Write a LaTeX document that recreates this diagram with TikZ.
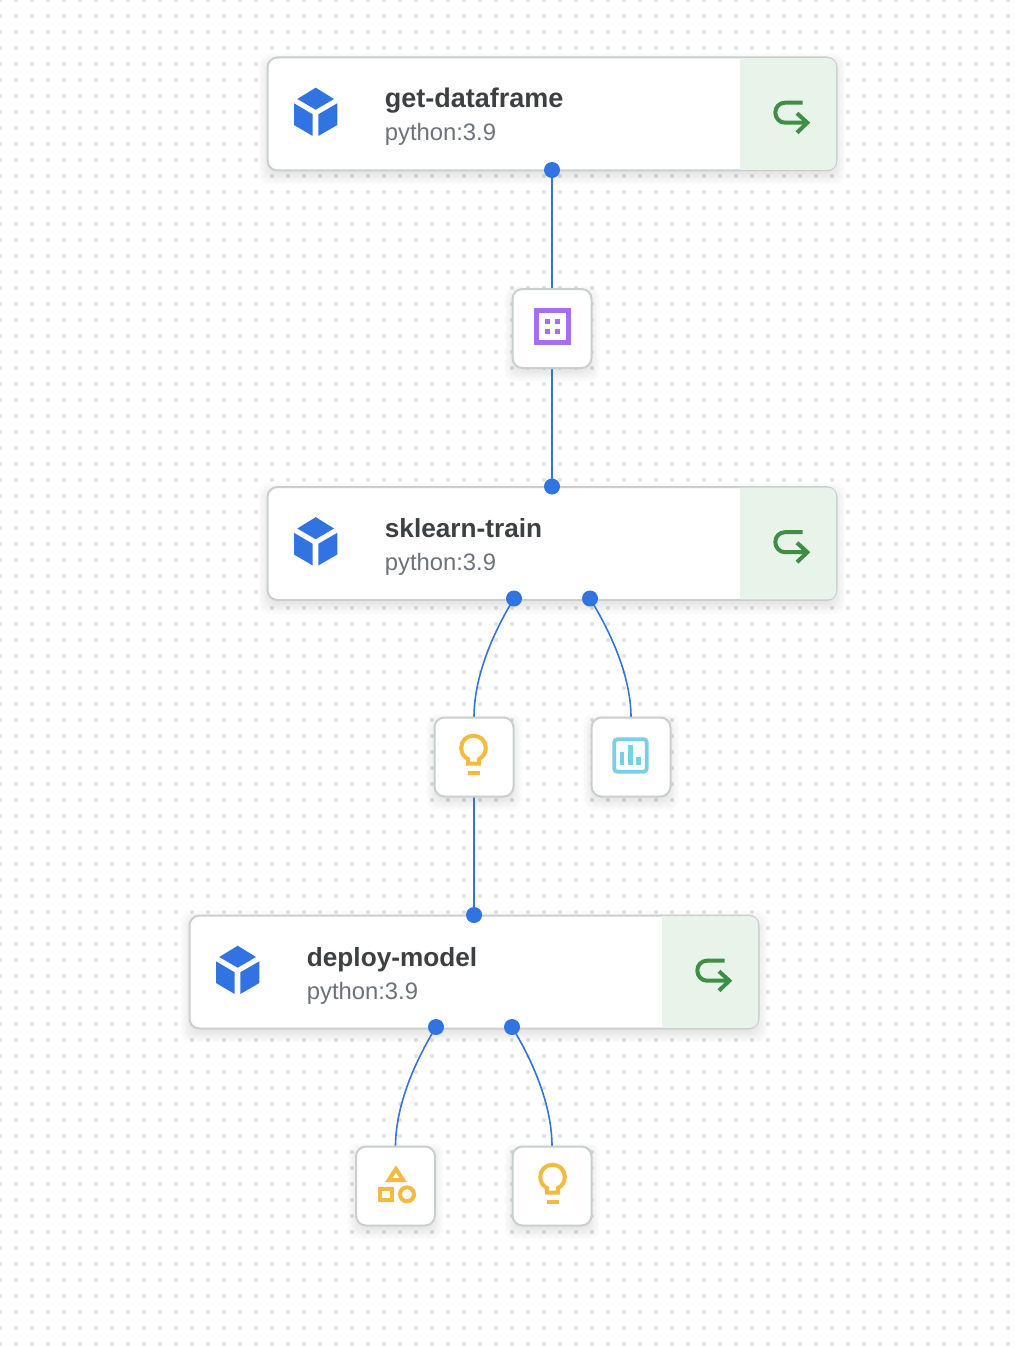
\documentclass[tikz,border=0pt]{standalone}
\usepackage{fontspec}
\setmainfont{Liberation Sans}
\definecolor{dotc}{HTML}{E0E0E0}
\definecolor{edgeb}{HTML}{C9CFCF}
\definecolor{blueb}{HTML}{3273E2}
\definecolor{titlec}{HTML}{3C4043}
\definecolor{subc}{HTML}{6B727A}
\definecolor{panelg}{HTML}{E8F3EA}
\definecolor{greenr}{HTML}{3E8F45}
\definecolor{purplei}{HTML}{A76EEF}
\definecolor{amberi}{HTML}{F3BA3F}
\definecolor{skyi}{HTML}{78CFE8}
\pgfdeclarelayer{backl}
\pgfdeclarelayer{edgel}
\pgfsetlayers{backl,edgel,main}
\tikzset{
  x=1pt,y=-1pt,
  cardbox/.style={draw=edgeb,line width=2pt,fill=white,rounded corners=10pt,inner sep=0pt,outer sep=0pt},
  smallbox/.style={cardbox,minimum width=79pt,minimum height=79pt},
  portdot/.style={circle,fill=blueb,inner sep=0pt,outer sep=0pt,minimum size=16pt},
  conn/.style={draw=blueb,line width=1.6pt},
  titletext/.style={anchor=base west,inner sep=0pt,text=titlec},
  subtext/.style={anchor=base west,inner sep=0pt,text=subc,font=\fontsize{23.8}{28}\selectfont},
  iconline/.style={line width=#1,line join=miter},
  iconline/.default=4pt
}
% soft shadow behind a box: centre x, centre y, half width, half height
\newcommand{\softshade}[4]{%
  \begin{pgfonlayer}{backl}
  \foreach \e in {9,8,7,6,5,4,3,2,1,0,-1,-2}{%
    \fill[black,opacity=.009,rounded corners=10pt]
      (#1-#3-\e,#2-#4-\e+5) rectangle (#1+#3+\e,#2+#4+\e+5);
  }
  \end{pgfonlayer}}
% pipeline card: name, centre x, centre y, title, title size
\newcommand{\pipecard}[5]{%
  \softshade{#2}{#3}{285}{57}
  \node[cardbox,minimum width=569pt,minimum height=113pt] (#1) at (#2,#3) {};
  \begin{scope}[shift={(#2-285,#3-57)}]
    \fill[panelg] (473,1.2) {[rounded corners=8pt] -- (569,1.2) -- (569,112.8)} -- (473,112.8) -- cycle;
    \fill[blueb] (48.7,30.7) -- (67,42) -- (48.7,52.7) -- (30.3,42) -- cycle;
    \fill[blueb] (27,46.3) -- (45.7,57.3) -- (45.7,79) -- (27,68) -- cycle;
    \fill[blueb] (51.3,57.3) -- (70.3,46.3) -- (70.3,68) -- (51.3,79) -- cycle;
    \draw[greenr,line width=4pt] (535.7,45.7) -- (518,45.7)
       .. controls (512.5,45.7) and (508.3,50) .. (508.3,55.5)
       .. controls (508.3,61) and (512.5,65.7) .. (518,65.7) -- (539.3,65.7);
    \draw[greenr,line width=4pt] (530,56.3) -- (540.3,65.7) -- (530,75.7);
    \node[titletext,font=\fontsize{#5}{30}\selectfont\bfseries] (#1t) at (117.7,51) {#4};
    \node[subtext] (#1s) at (117.7,84) {python:3.9};
  \end{scope}}
\newcommand{\minibox}[3]{%
  \softshade{#2}{#3}{39.5}{39.5}
  \node[smallbox] (#1) at (#2,#3) {};}
\newcommand{\bulbicon}[2]{%
  \begin{scope}[shift={(#1,#2)},amberi]
    \draw[iconline] (-5.5,14) -- (-5.5,9.5)
       .. controls (-9.5,7.5) and (-12.3,3.5) .. (-12.3,-1.5)
       .. controls (-12.3,-8.5) and (-7,-13.8) .. (0,-13.8)
       .. controls (7,-13.8) and (12.3,-8.5) .. (12.3,-1.5)
       .. controls (12.3,3.5) and (9.5,7.5) .. (5.5,9.5) -- (5.5,14) -- cycle;
    \fill (-6,21.5) rectangle (6,25);
  \end{scope}}
\begin{document}
\begin{tikzpicture}
\useasboundingbox (0,0) rectangle (1014,1348);
\begin{pgfonlayer}{backl}
  \fill[white] (0,0) rectangle (1014,1348);
  \foreach \j in {0,...,84}{
    \foreach \i in {0,...,63}{
      \fill[dotc] (16*\i,16*\j) circle[radius=2pt];
    }
  }
\end{pgfonlayer}

\pipecard{getdf}{552}{114}{get-dataframe}{27}
\pipecard{train}{552}{543.5}{sklearn-train}{26.2}
\pipecard{deploy}{474}{972}{deploy-model}{26.2}

\minibox{table}{552}{328.5}
\minibox{insA}{474}{757}
\minibox{chart}{631}{757}
\minibox{shapes}{395.5}{1186}
\minibox{insB}{552}{1186}

% table icon
\begin{scope}[shift={(552.5,326.5)},purplei]
  \draw[line width=5pt] (-16,-15.6) rectangle (16,15.6);
  \fill (-7.5,-7.8) rectangle (-2.4,-3);
  \fill (2.5,-7.8) rectangle (7.6,-3);
  \fill (-7.5,2.2) rectangle (-2.4,7);
  \fill (2.5,2.2) rectangle (7.6,7);
\end{scope}
\bulbicon{473.5}{749.5}
\bulbicon{552.5}{1178.5}
% chart icon
\begin{scope}[shift={(630.5,755.5)},skyi]
  \draw[line width=3.8pt,rounded corners=3pt] (-16.2,-16.2) rectangle (16.2,16.2);
  \fill (-10.2,-3.8) rectangle (-6.2,9.5);
  \fill (-2.5,-10.5) rectangle (2.2,9.5);
  \fill (5.8,1.8) rectangle (10.2,9.5);
\end{scope}
% shapes icon
\begin{scope}[shift={(395.5,1186)},amberi]
  \draw[line width=4pt] (0.4,-17) -- (7.6,-6) -- (-6.8,-6) -- cycle;
  \draw[line width=4pt] (-15.8,2.7) rectangle (-3.8,14.3);
  \draw[line width=4pt] (11.5,8.3) circle[radius=7pt];
\end{scope}

\node[portdot] (p1) at (552,170) {};
\node[portdot] (p2) at (552,486.5) {};
\node[portdot] (p3) at (514,598.5) {};
\node[portdot] (p4) at (590,598.5) {};
\node[portdot] (p5) at (474,915) {};
\node[portdot] (p6) at (436,1027) {};
\node[portdot] (p7) at (512,1027) {};

\begin{pgfonlayer}{edgel}
  \draw[conn] (p1.center) -- (table.north);
  \draw[conn] (table.south) -- (p2.center);
  \draw[conn] (p3.center) .. controls +(-22,36) and +(0,-40) .. (insA.north);
  \draw[conn] (p4.center) .. controls +(22,36) and +(0,-40) .. (chart.north);
  \draw[conn] (insA.south) -- (p5.center);
  \draw[conn] (p6.center) .. controls +(-22,36) and +(0,-40) .. (shapes.north);
  \draw[conn] (p7.center) .. controls +(22,36) and +(0,-40) .. (insB.north);
\end{pgfonlayer}
\end{tikzpicture}
\end{document}
